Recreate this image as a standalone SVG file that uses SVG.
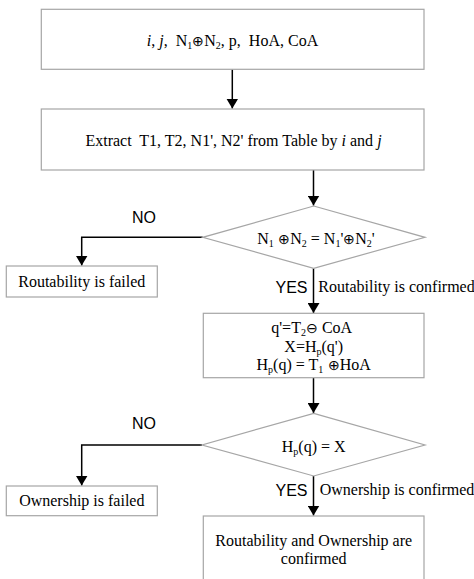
<svg xmlns="http://www.w3.org/2000/svg" width="474" height="579" viewBox="0 0 474 579">
<defs>
<style>
.box{fill:#fff;stroke:#a6a6a6;stroke-width:1.2}
.t{font-family:"Liberation Serif","Times New Roman",serif;font-size:16px;fill:#000;text-anchor:middle}
.s{font-family:"Liberation Sans",Arial,sans-serif;font-size:16px;fill:#000}
.sub{font-size:10px}
.op{font-family:"DejaVu Sans ExtraLight","DejaVu Sans",sans-serif;font-weight:200;font-size:14px}
.c{fill:none;stroke:#000;stroke-width:1.5}
</style>
<marker id="ah" viewBox="0 0 10 12" refX="10" refY="6" markerWidth="10" markerHeight="12" markerUnits="userSpaceOnUse" orient="auto">
<path d="M0,0 L10,6 L0,12 Z" fill="#000"/>
</marker>
</defs>
<rect width="474" height="579" fill="#fff"/>
<g id="connectors">
<path class="c" d="M232.3,69.3 V108.5" marker-end="url(#ah)"/>
<path class="c" d="M313.5,170 V205.5" marker-end="url(#ah)"/>
<path class="c" d="M202.7,237.3 H81.7 V265.5" marker-end="url(#ah)"/>
<path class="c" d="M313.5,268.3 V313" marker-end="url(#ah)"/>
<path class="c" d="M313.5,377.7 V413" marker-end="url(#ah)"/>
<path class="c" d="M202,445 H81.7 V485.5" marker-end="url(#ah)"/>
<path class="c" d="M313.5,476 V515.5" marker-end="url(#ah)"/>
</g>
<g id="start">
<rect class="box" x="41.3" y="9.3" width="382.7" height="60"/>
<text class="t" x="232.5" y="45.5" xml:space="preserve"><tspan font-style="italic">i</tspan>, <tspan font-style="italic">j</tspan>,  N<tspan class="sub" dy="3">1</tspan><tspan class="op" dy="-3">⊕</tspan><tspan>N</tspan><tspan class="sub" dy="3">2</tspan><tspan dy="-3">, p,  HoA, CoA</tspan></text>
</g>
<g id="extract">
<rect class="box" x="41.3" y="109" width="382.7" height="61"/>
<text class="t" x="233.5" y="145.5" xml:space="preserve">Extract  T1, T2, N1', N2' from Table by <tspan font-style="italic">i</tspan> and <tspan font-style="italic">j</tspan></text>
</g>
<g id="decision1">
<polygon class="box" points="313.7,206 425,237.3 313.7,268.3 202.7,237.3"/>
<text class="t" x="316" y="244" xml:space="preserve">N<tspan class="sub" dy="3">1</tspan><tspan class="op" dy="-3"> ⊕</tspan><tspan>N</tspan><tspan class="sub" dy="3">2</tspan><tspan dy="-3"> = N</tspan><tspan class="sub" dy="3">1</tspan><tspan dy="-3">'</tspan><tspan class="op">⊕</tspan><tspan>N</tspan><tspan class="sub" dy="3">2</tspan><tspan dy="-3">'</tspan></text>
<text class="s" x="132" y="222.5">NO</text>
<text class="s" x="275.5" y="292.5">YES</text>
<text class="t" x="396.5" y="292">Routability is confirmed</text>
</g>
<g id="fail1">
<rect class="box" x="6.3" y="266" width="151" height="31"/>
<text class="t" x="81.8" y="287">Routability is failed</text>
</g>
<g id="compute">
<rect class="box" x="203.3" y="313.3" width="220.7" height="64.4"/>
<text class="t" x="311.7" y="332.5">q'=T<tspan class="sub" dy="3">2</tspan><tspan class="op" dy="-3">⊖</tspan><tspan> CoA</tspan></text>
<text class="t" x="313.7" y="351.5">X=H<tspan class="sub" dy="3">p</tspan><tspan dy="-3">(q')</tspan></text>
<text class="t" x="313.7" y="369.5" xml:space="preserve">H<tspan class="sub" dy="3">p</tspan><tspan dy="-3">(q) = T</tspan><tspan class="sub" dy="3">1</tspan><tspan class="op" dy="-3"> ⊕</tspan><tspan>HoA</tspan></text>
</g>
<g id="decision2">
<polygon class="box" points="313.7,413.3 425,445 313.7,476 202,445"/>
<text class="t" x="313.7" y="451.5">H<tspan class="sub" dy="3">p</tspan><tspan dy="-3">(q) = X</tspan></text>
<text class="s" x="132" y="429">NO</text>
<text class="s" x="275.5" y="496">YES</text>
<text class="t" x="397" y="495">Ownership is confirmed</text>
</g>
<g id="fail2">
<rect class="box" x="6.3" y="486" width="151" height="29.7"/>
<text class="t" x="81.8" y="505.5">Ownership is failed</text>
</g>
<g id="success">
<rect class="box" x="203.3" y="516" width="220.7" height="80"/>
<text class="t" x="313.7" y="546">Routability and Ownership are</text>
<text class="t" x="313.7" y="563.5">confirmed</text>
</g>
</svg>
